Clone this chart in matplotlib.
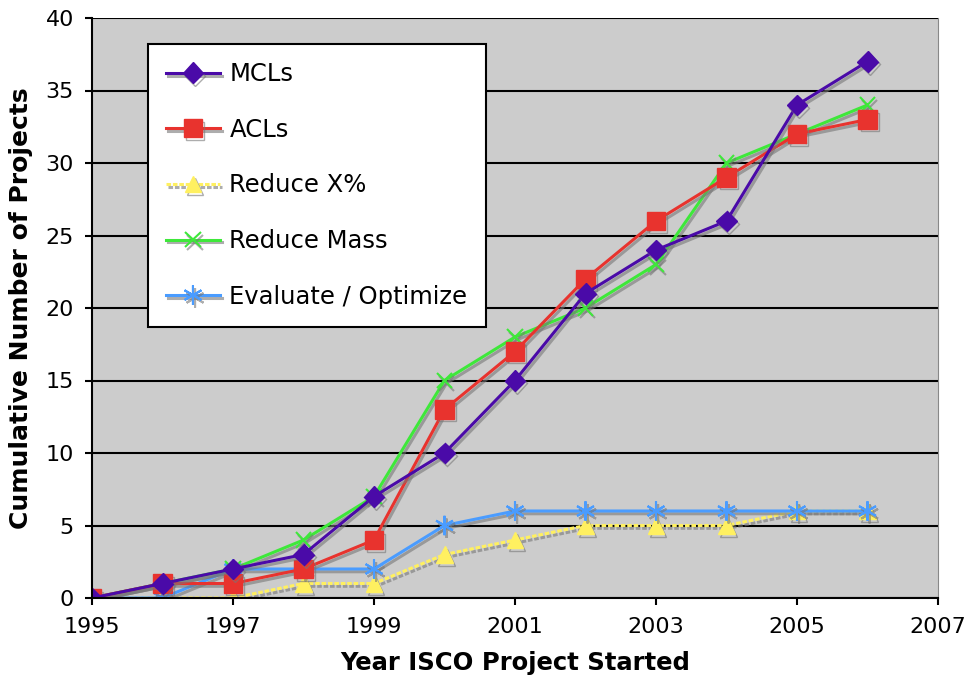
import matplotlib
matplotlib.use('Agg')
from matplotlib import pyplot as plt
import matplotlib.patheffects as pe

years = [1995, 1996, 1997, 1998, 1999, 2000, 2001, 2002, 2003, 2004, 2005, 2006]
mcls = [0, 1, 2, 3, 7, 10, 15, 21, 24, 26, 34, 37]
acls = [0, 1, 1, 2, 4, 13, 17, 22, 26, 29, 32, 33]
reduce_x = [0, 0, 0, 1, 1, 3, 4, 5, 5, 5, 6, 6]
reduce_mass = [0, 1, 2, 4, 7, 15, 18, 20, 23, 30, 32, 34]
evaluate = [0, 0, 2, 2, 2, 5, 6, 6, 6, 6, 6, 6]

series = [
    ('MCLs', mcls, '#4a0aa8', 'D', 10.5, '-'),
    ('ACLs', acls, '#e8332e', 's', 13, '-'),
    ('Reduce X%', reduce_x, '#fff060', '^', 12, (0, (1.5, 0.6))),
    ('Reduce Mass', reduce_mass, '#3ee83a', 'x', 11, '-'),
    ('Evaluate / Optimize', evaluate, '#4a9cff', (6, 2, 0), 14, '-'),
]

fig = plt.figure(figsize=(9.65, 6.82), dpi=100)
ax = fig.add_axes([92 / 965, 84 / 682, 846 / 965, 580 / 682])
ax.set_facecolor('#cccccc')

shadow = [pe.SimpleLineShadow(offset=(1.5, -2), shadow_color='#777777', alpha=0.6), pe.Normal()]

# draw order so purple sits on top like in the original
for name, vals, color, marker, ms, ls in [series[2], series[4], series[3], series[1], series[0]]:
    thin = marker == 'x' or isinstance(marker, tuple)
    ax.plot(years, vals, color=color, marker=marker, markersize=ms, linewidth=2.2,
            linestyle=ls, markeredgewidth=1.5 if thin else 1,
            markeredgecolor=color, label=name, path_effects=shadow)

ax.set_xlim(1995, 2007)
ax.set_ylim(0, 40)
ax.set_xticks(range(1995, 2008, 2))
ax.set_yticks(range(0, 41, 5))
ax.yaxis.grid(True, color='black', linewidth=1.5)
ax.set_axisbelow(True)
ax.tick_params(axis='both', direction='out', length=5, width=1.5, labelsize=16)
ax.tick_params(axis='x', pad=9)
ax.tick_params(axis='y', pad=8)
for s in ['left', 'bottom']:
    ax.spines[s].set_linewidth(1.5)
ax.spines['top'].set_visible(False)
ax.spines['right'].set_color('#888888')

ax.set_xlabel('Year ISCO Project Started', fontsize=17.5, fontweight='bold', labelpad=10)
ax.set_ylabel('Cumulative Number of Projects', fontsize=18, fontweight='bold', labelpad=9)

handles, labels = ax.get_legend_handles_labels()
order = [labels.index(s[0]) for s in series]
leg = ax.legend([handles[i] for i in order], [labels[i] for i in order],
                loc='upper left', bbox_to_anchor=(56 / 846, 1 - 26 / 580),
                fontsize=17.5, fancybox=False, framealpha=1, edgecolor='black',
                labelspacing=1.3, borderpad=0.75, handlelength=2.2, handletextpad=0.4,
                borderaxespad=0)
leg.get_frame().set_linewidth(1.5)

fig.savefig('out.png', dpi=100)
